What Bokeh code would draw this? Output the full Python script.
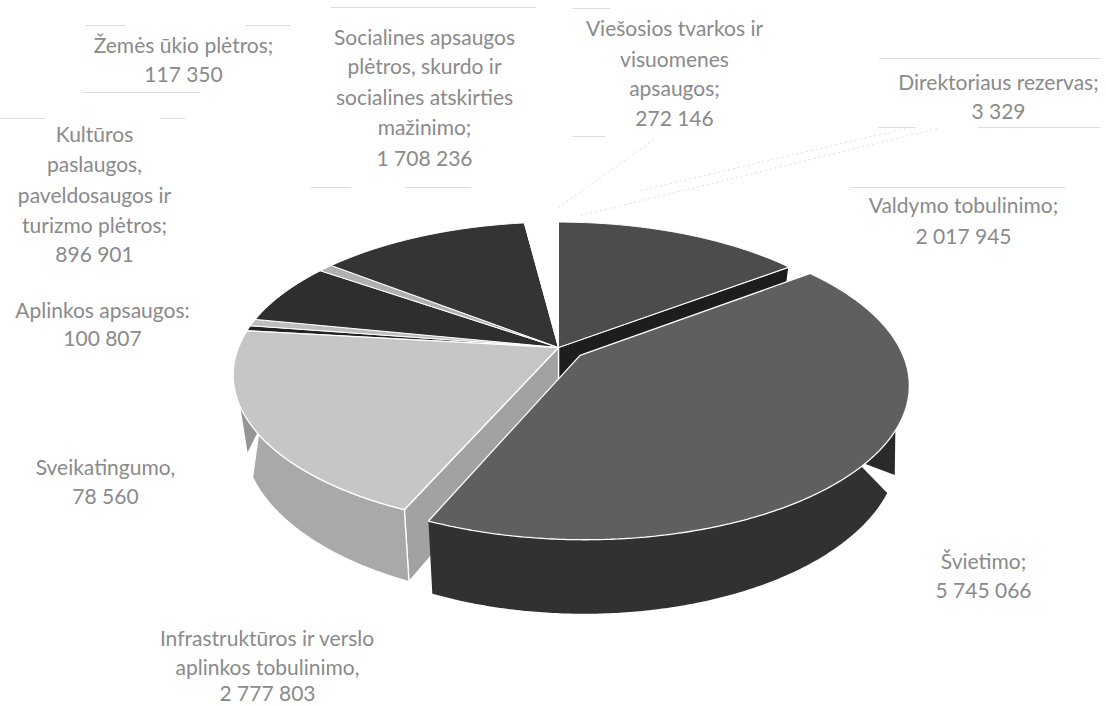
import numpy as np
from bokeh.plotting import figure
from bokeh.models import Range1d, ColumnDataSource
from bokeh.core.properties import value
from bokeh.embed import file_html
from bokeh.resources import INLINE

# ---- data (clockwise from 12 o'clock) ----
categories = ["Valdymo tobulinimo", "Švietimo", "Infrastruktūros ir verslo aplinkos tobulinimo",
              "Sveikatingumo", "Aplinkos apsaugos", "Kultūros paslaugos, paveldosaugos ir turizmo plėtros",
              "Žemės ūkio plėtros", "Socialines apsaugos plėtros, skurdo ir socialines atskirties mažinimo",
              "Viešosios tvarkos ir visuomenes apsaugos", "Direktoriaus rezervas"]
amounts = [2017945, 5745066, 2777803, 78560, 100807, 896901, 117350, 1708236, 272146, 3329]
top_colors = ["#4c4c4c", "#5f5f5f", "#c6c6c6", "#222222", "#bdbdbd", "#2e2e2e", "#b0b0b0", "#343434", "#ffffff", "#ffffff"]
explode = [0, 0.085, 0, 0, 0, 0, 0, 0, 0, 0]

# ---- projection of the tilted disc onto the page ----
X0, Y0, A, B, K, D = 558.0, 347.0, 320.0, 148.0, 0.18, 60.0


def project(u, v, depth=0.0):
    u, v = np.asarray(u, float), np.asarray(v, float)
    s = 1.0 / (1.0 + K * v)
    shrink = 1.0 - 0.03 * (depth > 0)
    return X0 + A * u * s * shrink, Y0 - B * v * s + D * s * depth


total = sum(amounts)
edges = np.concatenate([[0], np.cumsum(amounts)]) / total * 360.0


def offset(i):
    mid = np.radians((edges[i] + edges[i + 1]) / 2)
    return explode[i] * np.sin(mid), explode[i] * np.cos(mid)


def rim(i, a0, a1, depth=0.0):
    t = np.radians(np.linspace(a0, a1, max(2, int(abs(a1 - a0)) * 2 + 2)))
    ou, ov = offset(i)
    return project(ou + np.sin(t), ov + np.cos(t), depth)


def apex(i, depth=0.0):
    ou, ov = offset(i)
    return project(np.array([ou]), np.array([ov]), depth)


def poly(*parts):
    return (np.concatenate([q[0] for q in parts]).tolist(),
            np.concatenate([q[1] for q in parts]).tolist())


p = figure(width=1100, height=706, output_backend="svg", toolbar_location=None,
           x_range=Range1d(0, 1100), y_range=Range1d(706, 0), min_border=0)
p.axis.visible = False
p.grid.visible = False
p.outline_line_color = None
p.background_fill_color = "white"
p.border_fill_color = "white"


def fill(q, color, line="white", lw=1.3):
    p.patch(q[0], q[1], fill_color=color, line_color=line, line_width=lw)


# faint remains of the label boxes and leader lines
faint = [([878, 1100], [58, 58]), ([878, 915], [127, 127]), ([977, 1100], [127, 127]),
         ([850, 1065], [187, 187]), ([82, 200], [92, 92]),
         ([85, 125], [25, 25]), ([245, 290], [25, 25]), ([330, 535], [7, 7]), ([310, 350], [187, 187]),
         ([405, 470], [187, 187]), ([572, 610], [8, 8]), ([572, 605], [136, 136]),
         ([0, 45], [118, 118]), ([160, 185], [118, 118])]
for fx, fy in faint:
    p.line(fx, fy, line_color="#dcdcdc", line_width=1)
for fx, fy in [([558, 655], [207, 138]), ([580, 937], [215, 128]), ([640, 905], [190, 128])]:
    p.line(fx, fy, line_color="#dddddd", line_width=1, line_dash="2 3")

# left wedge of the infrastructure wall, behind everything in front
inf = 2
fill(poly(rim(inf, 238.5, 248), project(np.array([-0.94]), np.array([-0.342]), 0.8)), "#959595", line=None)

# Valdymo radial face and top
v = 0
fill(poly(apex(v), rim(v, edges[1], edges[1]), rim(v, edges[1], edges[1], 1.0), apex(v, 1.0)), "#1d1d1d")

# top faces of the back slices
for i in [3, 4, 5, 6, 7, 8, 9, 0]:
    fill(poly(apex(i), rim(i, edges[i], edges[i + 1])), top_colors[i], lw=1.0)

# infrastructure: radial face, wall, top
a0, a1 = edges[inf], edges[inf + 1]
fill(poly(apex(inf), rim(inf, a0, a0), rim(inf, a0, a0, 1.0), apex(inf, 1.0)), "#a2a2a2")
fill(poly(rim(inf, a0, 238), rim(inf, 246, a0, 1.0)), "#a9a9a9")
fill(poly(apex(inf), rim(inf, a0, a1)), top_colors[inf])

# education: walls and top
e = 1
e0, e1 = edges[e], edges[e + 1]
fill(poly(rim(e, 129.5, 85), rim(e, 110, 110, 1.0)), "#2a2a2a", line=None)
fill(poly(rim(e, e1, 130.5), rim(e, 116, e1, 1.0)), "#313131", line=None)
fill(poly(apex(e), rim(e, e0, e1)), top_colors[e])

# ---- labels ----
label_lines = [
    ["Valdymo tobulinimo;", "2 017 945"],
    ["Švietimo;", "5 745 066"],
    ["Infrastruktūros ir verslo", "aplinkos tobulinimo,", "2 777 803"],
    ["Sveikatingumo,", "78 560"],
    ["Aplinkos apsaugos:", "100 807"],
    ["Kultūros", "paslaugos,", "paveldosaugos ir", "turizmo plėtros;", "896 901"],
    ["Žemės ūkio plėtros;", "117 350"],
    ["Socialines apsaugos", "plėtros, skurdo ir", "socialines atskirties", "mažinimo;", "1 708 236"],
    ["Viešosios tvarkos ir", "visuomenes", "apsaugos;", "272 146"],
    ["Direktoriaus rezervas;", "3 329"],
]
label_x = [963, 983, 267, 105, 102, 94, 183, 424, 674, 998]
label_y = [[204, 235], [560, 589], [637, 666, 692], [466, 495], [309, 337],
           [133, 163, 194, 224, 253], [44, 73], [36, 65, 96, 126, 157], [27, 58, 87, 117], [81, 110]]
tx, ty, tt = [], [], []
for lines, x, ys in zip(label_lines, label_x, label_y):
    for line, y in zip(lines, ys):
        tx.append(x); ty.append(y); tt.append(line)
p.text(x="x", y="y", text="t", source=ColumnDataSource(dict(x=tx, y=ty, t=tt)),
       text_font=value("Lato"), text_font_size="21px", text_color="#8a8a8a",
       text_align="center", text_baseline="middle")

open("out.html", "w").write(file_html(p, INLINE))
